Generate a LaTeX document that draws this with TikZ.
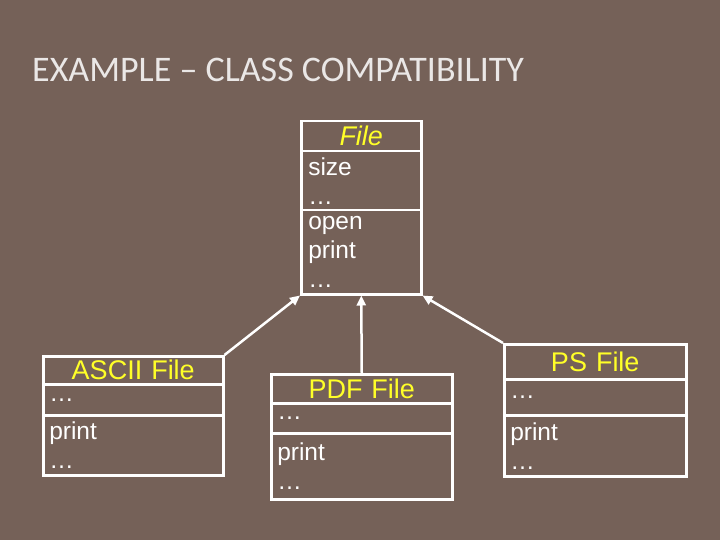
\documentclass[tikz,border=0pt]{standalone}
\usepackage{fontspec}
\setmainfont{Liberation Sans}
\newfontfamily\titlefont{Carlito}
\usetikzlibrary{arrows.meta}
\definecolor{slidebg}{RGB}{117,97,88}
\definecolor{classname}{RGB}{255,255,40}
\tikzset{
  compart/.style={rectangle, draw=white, line width=2.5pt, anchor=north west, inner sep=0pt,
    text=white, align=left, font=\fontsize{24.5}{29}\selectfont},
  headline/.style={compart, align=center, text=classname, font=\fontsize{27}{29}\selectfont},
  inherit/.style={white, line width=2.5pt, -{Triangle[length=10pt,width=9pt]}}
}
\begin{document}
\begin{tikzpicture}[x=1pt,y=-1pt]
  \fill[slidebg] (0,0) rectangle (720,540);
  \useasboundingbox (0,0) rectangle (720,540);
  \node[anchor=west, inner sep=0pt, text=white!85!slidebg, font=\titlefont\fontsize{36}{40}\selectfont] (title) at (32,70) {EXAMPLE – CLASS COMPATIBILITY};
  % base class
  \node[headline, minimum width=120, minimum height=30, text width=120] (file-name) at (300,120) {\itshape File};
  \node[compart, minimum width=120, minimum height=59, text width=106] (file-attr) at (300,150) {size\\\ldots};
  \node[compart, minimum width=120, minimum height=84, text width=106] (file-ops) at (300,209) {open\\print\\\ldots};
  % ASCII File
  \node[headline, minimum width=180, minimum height=28, text width=180] (ascii-name) at (42,355) {ASCII File};
  \node[compart, minimum width=180, minimum height=31, text width=168] (ascii-attr) at (42,383) {\ldots};
  \node[compart, minimum width=180, minimum height=60, text width=168] (ascii-ops) at (42,414) {print\\\ldots};
  % PDF File
  \node[headline, minimum width=181, minimum height=29, text width=181] (pdf-name) at (270,373) {PDF File};
  \node[compart, minimum width=181, minimum height=30, text width=169] (pdf-attr) at (270,402) {\ldots};
  \node[compart, minimum width=181, minimum height=66, text width=169] (pdf-ops) at (270,432) {print\\\ldots};
  % PS File
  \node[headline, minimum width=182, minimum height=35, text width=182] (ps-name) at (503,343) {PS File};
  \node[compart, minimum width=182, minimum height=36, text width=170] (ps-attr) at (503,378) {\ldots};
  \node[compart, minimum width=182, minimum height=61, text width=170] (ps-ops) at (503,414) {print\\\ldots};
  % inheritance
  \draw[inherit] (ascii-name.north east) -- (file-ops.south west);
  \draw[inherit] (pdf-name.north) -- (file-ops.south);
  \draw[inherit] (ps-name.north west) -- (file-ops.south east);
\end{tikzpicture}
\end{document}
